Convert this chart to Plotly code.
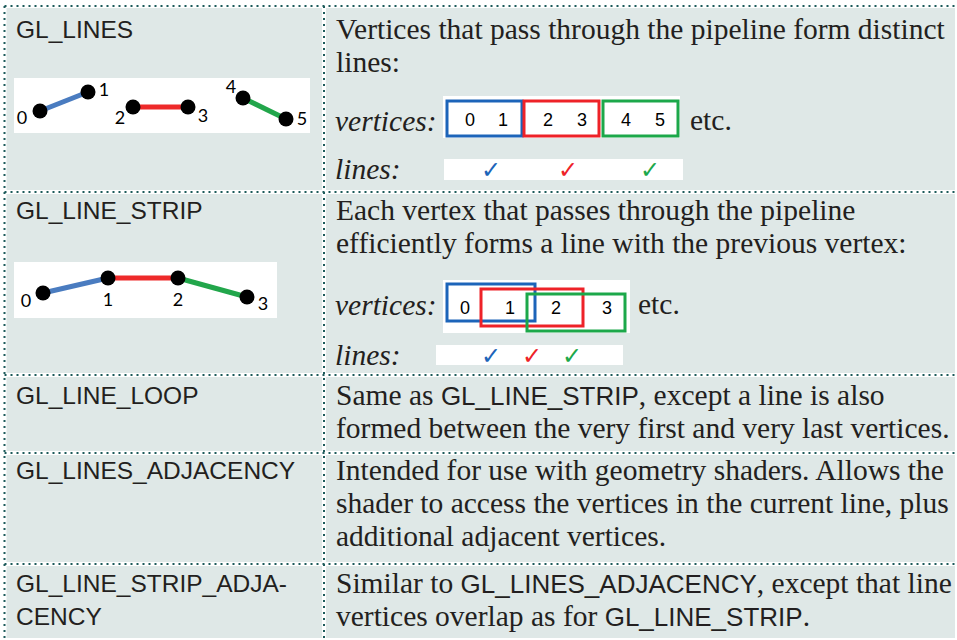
import re
import plotly.graph_objects as go

# ---- table content ----
row_labels = [
    ["GL_LINES"],
    ["GL_LINE_STRIP"],
    ["GL_LINE_LOOP"],
    ["GL_LINES_ADJACENCY"],
    ["GL_LINE_STRIP_ADJA-", "CENCY"],
]
row_texts = [
    ["Vertices that pass through the pipeline form distinct", "lines:"],
    ["Each vertex that passes through the pipeline",
     "efficiently forms a line with the previous vertex:"],
    ["Same as GL_LINE_STRIP, except a line is also",
     "formed between the very first and very last vertices."],
    ["Intended for use with geometry shaders. Allows the",
     "shader to access the vertices in the current line, plus",
     "additional adjacent vertices."],
    ["Similar to GL_LINES_ADJACENCY, except that line",
     "vertices overlap as for GL_LINE_STRIP."],
]

# ---- diagram data (figure pixel space) ----
lines_ids = ["0", "1", "2", "3", "4", "5"]
lines_vx = [40, 88, 133, 188, 243, 286]
lines_vy = [111, 92, 107, 107, 98, 119]
lines_segs = [(0, 1), (2, 3), (4, 5)]

strip_ids = ["0", "1", "2", "3"]
strip_vx = [43, 108, 178, 247]
strip_vy = [293, 278, 278, 297]
strip_segs = [(0, 1), (1, 2), (2, 3)]

vertex_groups = [["0", "1"], ["2", "3"], ["4", "5"]]

seg_colors = ["#4a7cc0", "#ee2a2a", "#22a64b"]
box_colors = ["#1c64b9", "#ee2228", "#1ca84a"]

# ---- layout constants ----
W, H = 957, 640
row_edges = [6, 192, 375, 453, 564, 640]
col_x = [4.5, 324, 957]
BG = "#dfe8e7"
GRID = "#1d5b5b"
INK = "#231f20"
LINE_H = 33
SANS = "Liberation Sans"
SERIF = "Liberation Serif"

fig = go.Figure()


def rect(x0, y0, x1, y1, fill=None, color=None, width=0, layer="below"):
    fig.add_shape(type="rect", x0=x0, y0=y0, x1=x1, y1=y1, layer=layer,
                  fillcolor=fill if fill else "rgba(0,0,0,0)",
                  line=dict(color=color if color else "rgba(0,0,0,0)", width=width))


def text(x, y, s, size, family, color=INK, anchor="left"):
    fig.add_annotation(x=x, y=y, text=s, showarrow=False, xanchor=anchor,
                       yanchor="middle", font=dict(size=size, family=family, color=color))


# cell backgrounds
for r in range(5):
    for c in range(2):
        rect(col_x[c] + 2, row_edges[r] + 2, col_x[c + 1] - 2, row_edges[r + 1] - 2, fill=BG)

# dotted grid
dot = dict(color=GRID, width=2, dash="2px,4px")
for y in row_edges[:-1]:
    fig.add_shape(type="line", x0=col_x[0], x1=W, y0=y, y1=y, line=dot)
for x in col_x[:2]:
    fig.add_shape(type="line", x0=x, x1=x, y0=row_edges[0], y1=H, line=dot)

# text in cells
label_y = [29, 210, 395, 470, 583]
for r in range(5):
    for i, s in enumerate(row_labels[r]):
        text(14, label_y[r] + i * LINE_H, s, 24.5, SANS)
    for i, s in enumerate(row_texts[r]):
        s = re.sub(r"(GL_[A-Z_]+)",
                   r'<span style="font-family:Liberation Sans;font-size:26px">\1</span>', s)
        text(334, label_y[r] + i * LINE_H, s, 29.5, SERIF)

# ---- diagrams ----
def diagram(vx, vy, ids, segs, lab_x, lab_y):
    for k, (a, b) in enumerate(segs):
        fig.add_trace(go.Scatter(x=[vx[a], vx[b]], y=[vy[a], vy[b]], mode="lines",
                                 line=dict(color=seg_colors[k], width=5),
                                 hoverinfo="skip", showlegend=False))
    fig.add_trace(go.Scatter(x=vx, y=vy, mode="markers",
                             marker=dict(color="black", size=15),
                             hoverinfo="skip", showlegend=False))
    fig.add_trace(go.Scatter(x=lab_x, y=lab_y, mode="text", text=ids,
                             textfont=dict(family="Lato", size=18, color="black"),
                             hoverinfo="skip", showlegend=False))


rect(14, 78, 310, 133, fill="white")
diagram(lines_vx, lines_vy, lines_ids, lines_segs,
        [22, 104, 120, 203, 231, 302], [119, 91, 119, 117, 88, 120])

rect(14, 262, 277, 318, fill="white")
diagram(strip_vx, strip_vy, strip_ids, strip_segs,
        [26, 108, 178, 263], [302, 301, 301, 305])

# ---- vertex / line strips ----
def vertex_row(y, bg, boxes, digits, digit_x, digit_y, etc_x, check_bg, check_x, check_y):
    text(333, y, "<i>vertices:</i>", 29.5, SERIF)
    rect(*bg, fill="white")
    for k, b in enumerate(boxes):
        rect(*b, color=box_colors[k], width=3, layer="above")
    for s, x in zip(digits, digit_x):
        text(x, digit_y, s, 18, SANS, color="black", anchor="center")
    text(etc_x, y - 1, "etc.", 29.5, SERIF)
    text(333, check_y, "<i>lines:</i>", 29.5, SERIF)
    rect(*check_bg, fill="white")
    for k, x in enumerate(check_x):
        text(x, check_y + 1, "\u2713", 24, "DejaVu Sans", color=box_colors[k], anchor="center")


vertex_row(121, (443, 96, 680, 138),
           [(447, 101, 522, 136), (524, 101, 599, 136), (603, 101, 678, 136)],
           [v for g in vertex_groups for v in g], [470, 503, 548, 582, 626, 660], 120,
           688, (444, 159, 683, 180), [491, 568, 650], 169)

vertex_row(305, (443, 280, 630, 333),
           [(447, 284, 535, 321), (481, 289, 583, 326), (527, 294, 625, 331)],
           strip_ids, [465, 510, 556, 607], 308,
           636, (436, 345, 623, 365), [491, 532, 572], 355)

fig.update_xaxes(range=[0, W], visible=False, fixedrange=True)
fig.update_yaxes(range=[H, 0], visible=False, fixedrange=True)
fig.update_layout(width=W, height=H, margin=dict(l=0, r=0, t=0, b=0),
                  paper_bgcolor="white", plot_bgcolor="white", showlegend=False)

fig.write_html("out.html", config={"displayModeBar": False},
               post_script="document.body.style.margin='0';")
